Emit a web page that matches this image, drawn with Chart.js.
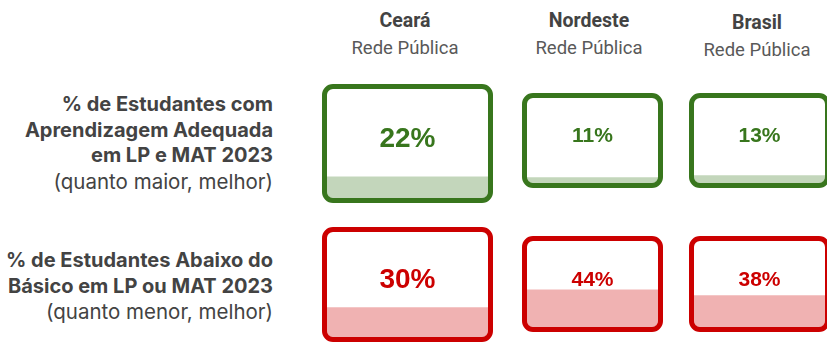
<!DOCTYPE html>
<html lang="pt-BR">
<head>
<meta charset="utf-8">
<title>Aprendizagem LP e MAT 2023</title>
<script src="https://cdn.jsdelivr.net/npm/chart.js@4.4.1/dist/chart.umd.min.js"></script>
<style>
  html, body { margin: 0; padding: 0; background: #fff; }
  body { width: 827px; height: 343px; position: relative; overflow: hidden; }
  .head { position: absolute; width: 180px; text-align: center; font-family: Roboto, sans-serif; }
  .head b { display: block; font-size: 19.5px; line-height: 22px; font-weight: 700; color: #434343; }
  .head span { display: block; font-size: 18.5px; line-height: 22px; color: #595959; margin-top: 5px; }
  .rowlabel { position: absolute; right: 554px; text-align: right; font-family: Inter, sans-serif;
              font-size: 20px; line-height: 25.5px; color: #434343; white-space: nowrap; }
  .rowlabel b { font-weight: 700; }
  .rowlabel span { font-size: 20.5px; }
  .box { position: absolute; }
</style>
</head>
<body>
<div id="heads"></div>
<div id="rows"></div>
<div id="boxes"></div>
<script>
// regions and their values (%)
const regions = ['Ceará', 'Nordeste', 'Brasil'];
const network = 'Rede Pública';
const adequatePct = [22, 11, 13];     // aprendizagem adequada
const belowBasicPct = [30, 44, 38];   // abaixo do básico

const rowTitles = [
  ['% de Estudantes com', 'Aprendizagem Adequada', 'em LP e MAT 2023'],
  ['% de Estudantes Abaixo do', 'Básico em LP ou MAT 2023']
];
const rowNotes = ['(quanto maior, melhor)', '(quanto menor, melhor)'];

// layout
const headCenters = [405, 589, 757];
const headTops = [10, 10, 12];
const rowTops = [92, 248];
const boxRects = [
  [[322, 84, 171, 119], [522, 93, 141, 95], [689, 93, 141, 95]],
  [[322, 227, 171, 115], [522, 236, 141, 96], [689, 236, 141, 96]]
];
const rowStyles = [
  { stroke: '#38761d', fill: 'rgba(56,118,29,0.30)' },
  { stroke: '#cc0000', fill: 'rgba(204,0,0,0.30)' }
];
const BORDER = 5;
const RADIUS = 11;

regions.forEach((name, i) => {
  const d = document.createElement('div');
  d.className = 'head';
  d.style.left = (headCenters[i] - 90) + 'px';
  d.style.top = headTops[i] + 'px';
  d.innerHTML = '<b>' + name + '</b><span>' + network + '</span>';
  document.getElementById('heads').appendChild(d);
});

rowTitles.forEach((lines, r) => {
  const d = document.createElement('div');
  d.className = 'rowlabel';
  d.style.top = rowTops[r] + 'px';
  d.innerHTML = lines.map(l => '<b>' + l + '</b>').join('<br>') + '<br><span>' + rowNotes[r] + '</span>';
  document.getElementById('rows').appendChild(d);
});

function roundPath(ctx, x, y, w, h, r) {
  ctx.beginPath();
  ctx.roundRect(x, y, w, h, r);
}

// rounded frame around the plot area, bar clipped inside it, value in the middle
const framePlugin = {
  id: 'frame',
  beforeDatasetsDraw(chart) {
    const a = chart.chartArea, ctx = chart.ctx;
    ctx.save();
    roundPath(ctx, a.left + BORDER, a.top + BORDER, a.width - 2 * BORDER, a.height - 2 * BORDER, RADIUS - BORDER);
    ctx.clip();
  },
  afterDatasetsDraw(chart, args, opts) {
    const a = chart.chartArea, ctx = chart.ctx;
    ctx.restore();
    ctx.save();
    roundPath(ctx, a.left + BORDER / 2, a.top + BORDER / 2, a.width - BORDER, a.height - BORDER, RADIUS - BORDER / 2);
    ctx.lineWidth = BORDER;
    ctx.strokeStyle = opts.color;
    ctx.stroke();
    const v = chart.data.datasets[0].data[0];
    ctx.fillStyle = opts.color;
    ctx.font = 'bold ' + opts.fontSize + 'px "Liberation Sans", Arial, sans-serif';
    ctx.textAlign = 'center';
    ctx.textBaseline = 'middle';
    ctx.fillText(v + '%', (a.left + a.right) / 2, (a.top + a.bottom) / 2 - 4);
    ctx.restore();
  }
};

[adequatePct, belowBasicPct].forEach((values, r) => {
  values.forEach((v, i) => {
    const [x, y, w, h] = boxRects[r][i];
    const wrap = document.createElement('div');
    wrap.className = 'box';
    wrap.style.left = x + 'px';
    wrap.style.top = y + 'px';
    const cv = document.createElement('canvas');
    cv.width = w;
    cv.height = h;
    wrap.appendChild(cv);
    document.getElementById('boxes').appendChild(wrap);

    new Chart(cv, {
      type: 'bar',
      data: {
        labels: [regions[i]],
        datasets: [{
          data: [v],
          backgroundColor: rowStyles[r].fill,
          borderWidth: 0,
          barPercentage: 1,
          categoryPercentage: 1
        }]
      },
      options: {
        responsive: false,
        animation: false,
        devicePixelRatio: 1,
        layout: { padding: 0 },
        scales: {
          x: { display: false },
          y: { display: false, min: 0, max: 100 }
        },
        plugins: {
          legend: { display: false },
          tooltip: { enabled: false },
          frame: { color: rowStyles[r].stroke, fontSize: i === 0 ? 28 : 21 }
        }
      },
      plugins: [framePlugin]
    });
  });
});
</script>
</body>
</html>
